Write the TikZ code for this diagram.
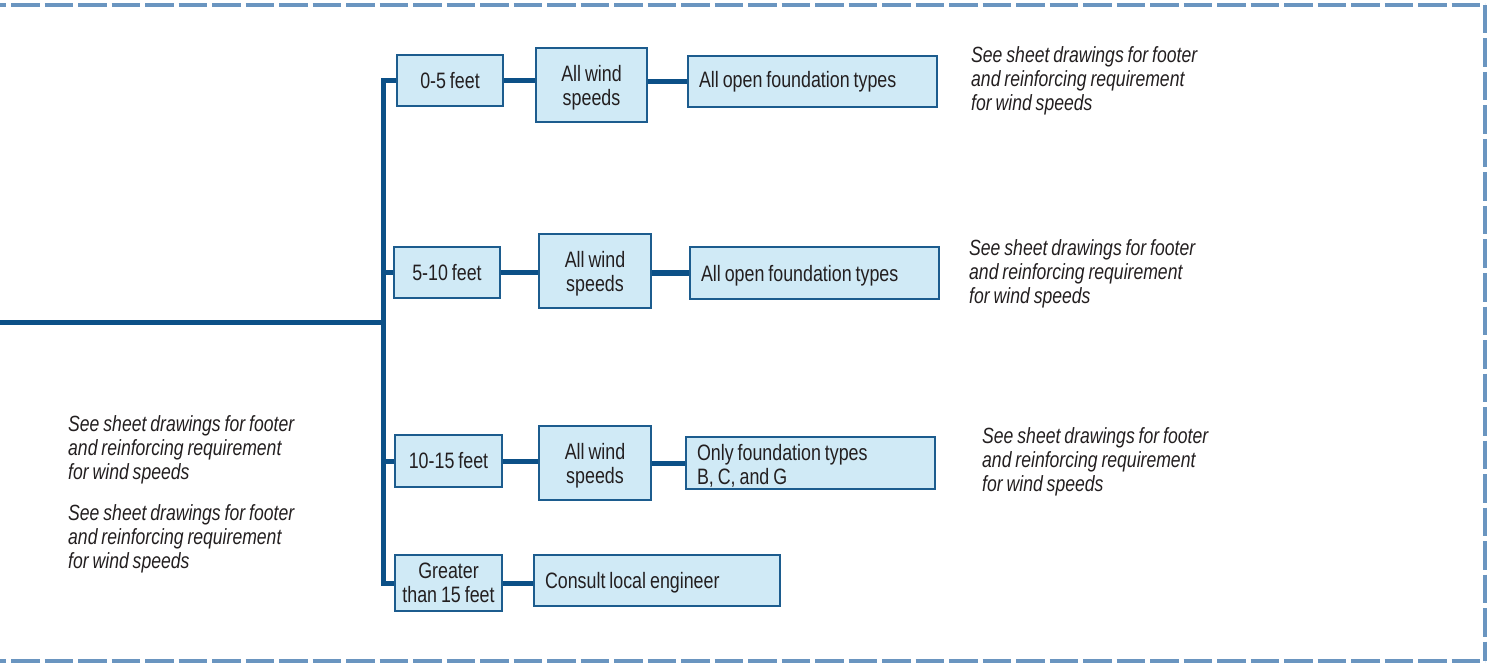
\documentclass[tikz,border=0pt]{standalone}
\usepackage{fontspec}
\setmainfont{Liberation Sans}[FakeStretch=0.8, WordSpace=0.8]
\definecolor{boxfill}{RGB}{208,234,246}
\definecolor{boxline}{RGB}{28,92,142}
\definecolor{connc}{RGB}{12,80,135}
\definecolor{frame}{RGB}{106,149,192}
\definecolor{txt}{RGB}{35,31,32}
\tikzset{
  box/.style={draw=boxline, line width=2pt, fill=boxfill, inner sep=0pt, align=center,
    font=\fontsize{22.3}{24}\selectfont, text=txt},
  lbox/.style={box, align=flush left, inner xsep=11pt},
  conn/.style={draw=connc, line width=5pt},
  note/.style={font=\itshape\fontsize{22}{24}\selectfont, align=left, anchor=north west, inner sep=0pt, text=txt},
  framedash/.style={draw=frame, line width=4.5pt, dash pattern=on 28.5pt off 5pt}
}
\begin{document}
\begin{tikzpicture}[x=1pt,y=-1pt]
\useasboundingbox (0,0) rectangle (1489,663);
% frame
\coordinate (fa) at (-22.5,5);
\coordinate (fb) at (1485,5);
\coordinate (fc) at (1485,661);
\coordinate (fd) at (-22.5,661);
\draw[framedash] (fa) -- (fb);
\draw[framedash] (fb) -- (fc);
\draw[framedash] (fd) -- (fc);
% row 1
\node[box, minimum width=106, minimum height=51] (b1) at (450,80.5) {0-5 feet};
\node[box, minimum width=111, minimum height=74, text depth=0pt] (w1) at (591.5,85) {All wind\\speeds};
\node[lbox, minimum width=249, minimum height=51, text width=227] (f1) at (812.5,81.5) {All open foundation types};
% row 2
\node[box, minimum width=106, minimum height=51] (b2) at (447,272.5) {5-10 feet};
\node[box, minimum width=112, minimum height=74, text depth=0pt] (w2) at (595,271) {All wind\\speeds};
\node[lbox, minimum width=249, minimum height=52, text width=227, text depth=0pt] (f2) at (814.5,273) {All open foundation types};
% row 3
\node[box, minimum width=107, minimum height=52] (b3) at (448.5,461) {10-15 feet};
\node[box, minimum width=112, minimum height=74, text depth=0pt] (w3) at (595,463) {All wind\\speeds};
\node[lbox, minimum width=249, minimum height=52, text width=227, text depth=21pt] (f3) at (810.5,463) {Only foundation types\\B, C, and G};
% row 4
\node[box, minimum width=107, minimum height=56] (b4) at (448.5,583) {Greater\\than 15 feet};
\node[lbox, minimum width=246, minimum height=51, text width=224, text depth=0pt] (c4) at (657,580.5) {Consult local engineer};
% trunk
\coordinate (trunk) at (383,322);
\coordinate (start) at (0,322);
\draw[conn] (start) -- (trunk);
\draw[conn] (b1.west) -- (b1.west -| trunk) -- (b4.west -| trunk) -- (b4.west);
\draw[conn] (b2.west) -- (b2.west -| trunk);
\draw[conn] (b3.west) -- (b3.west -| trunk);
% connectors
\draw[conn] (b1.east) -- (b1.east -| w1.west);
\draw[conn] (f1.west -| w1.east) -- (f1.west);
\draw[conn] (b2.east) -- (b2.east -| w2.west);
\draw[conn] (f2.west -| w2.east) -- (f2.west);
\draw[conn] (b3.east) -- (b3.east -| w3.west);
\draw[conn] (f3.west -| w3.east) -- (f3.west);
\draw[conn] (b4.east) -- (b4.east -| c4.west);
% notes
\node[note] (n1) at (971,46) {See sheet drawings for footer\\and reinforcing requirement\\for wind speeds};
\node[note] (n2) at (969,239) {See sheet drawings for footer\\and reinforcing requirement\\for wind speeds};
\node[note] (n3) at (982,427) {See sheet drawings for footer\\and reinforcing requirement\\for wind speeds};
\node[note] (n4) at (68,415) {See sheet drawings for footer\\and reinforcing requirement\\for wind speeds};
\node[note] (n5) at (68,504) {See sheet drawings for footer\\and reinforcing requirement\\for wind speeds};
\end{tikzpicture}
\end{document}
